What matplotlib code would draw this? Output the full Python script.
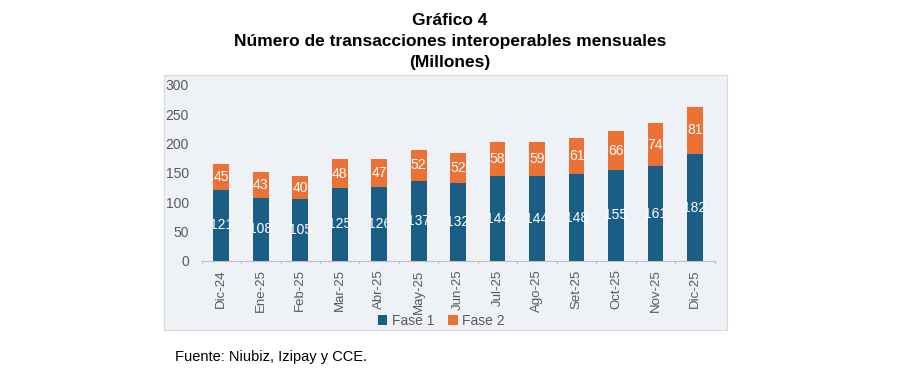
import numpy as np
import matplotlib.pyplot as plt
from matplotlib.patches import Rectangle

plt.rcParams['font.family'] = ['Liberation Sans', 'DejaVu Sans']

months = ["Dic-24", "Ene-25", "Feb-25", "Mar-25", "Abr-25", "May-25", "Jun-25",
          "Jul-25", "Ago-25", "Set-25", "Oct-25", "Nov-25", "Dic-25"]
fase1 = [121, 108, 105, 125, 126, 137, 132, 144, 144, 148, 155, 161, 182]
fase2 = [45, 43, 40, 48, 47, 52, 52, 58, 59, 61, 66, 74, 81]

blue = "#1b5e85"
orange = "#ec7135"
grey = "#595959"

fig = plt.figure(figsize=(9, 3.86), dpi=100)

# panel background (drawn behind the axes)
fig.patches.append(Rectangle((0.182, 0.145), 0.626, 0.661, transform=fig.transFigure,
                             facecolor="#eef2f6", edgecolor="#d9d9d9", linewidth=0.8,
                             zorder=-10))

ax = fig.add_axes([0.224, 0.324, 0.570, 0.456])
ax.set_facecolor("none")
ax.set_zorder(1)

x = np.arange(len(months))
b1 = ax.bar(x, fase1, width=0.4, color=blue, label="Fase 1")
b2 = ax.bar(x, fase2, width=0.4, bottom=fase1, color=orange, label="Fase 2")

for i in range(len(months)):
    ax.text(x[i], fase1[i] / 2, str(fase1[i]), ha="center", va="center",
            color="white", fontsize=10)
    ax.text(x[i], fase1[i] + fase2[i] / 2, str(fase2[i]), ha="center", va="center",
            color="white", fontsize=10)

ax.set_xlim(-0.5, len(months) - 0.5)
ax.set_ylim(0, 300)
ax.set_yticks(np.arange(0, 301, 50))
ax.set_xticks(x)
ax.set_xticklabels(months, rotation=90)
ax.tick_params(axis="y", length=0, labelsize=10, labelcolor=grey, pad=9)
ax.tick_params(axis="x", length=0, labelsize=9.5, labelcolor=grey, pad=6)

for s in ["top", "right", "left"]:
    ax.spines[s].set_visible(False)
ax.spines["bottom"].set_color("#bfbfbf")

# small separators between categories on the axis line
for k in range(len(months) + 1):
    ax.plot([k - 0.5, k - 0.5], [0, -4], color="#bfbfbf", lw=0.8, clip_on=False)

fig.legend(handles=[b1, b2], loc="center", bbox_to_anchor=(0.49, 0.168), ncol=2,
           frameon=False, fontsize=10, handlelength=0.7, handleheight=0.7,
           columnspacing=1.0, handletextpad=0.3, labelcolor=grey)

fig.text(0.5, 0.948, "Gráfico 4", ha="center", va="center", fontsize=12.5, fontweight="bold")
fig.text(0.5, 0.892, "Número de transacciones interoperables mensuales", ha="center",
         va="center", fontsize=12.5, fontweight="bold")
fig.text(0.5, 0.837, "(Millones)", ha="center", va="center", fontsize=12.5, fontweight="bold")

fig.text(0.194, 0.075, "Fuente: Niubiz, Izipay y CCE.", ha="left", va="center", fontsize=10.5)

fig.savefig("out.png", dpi=100)
